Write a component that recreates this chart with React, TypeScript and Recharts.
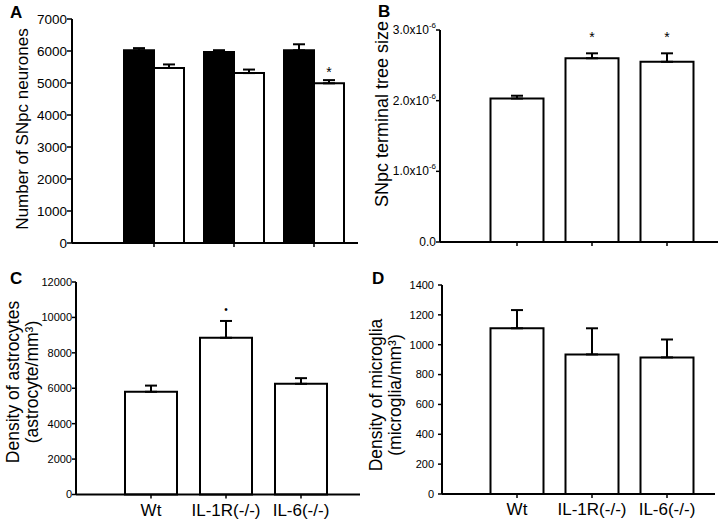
import React from "react"
import { BarChart, Bar, XAxis, YAxis, ErrorBar, LabelList } from "recharts"

const groups = ["Wt", "IL-1R(-/-)", "IL-6(-/-)"]

// A: number of SNpc neurones (black = one condition, white = other)
const neuronsBlack = [6020, 5970, 6020]
const neuronsBlackErr = [70, 55, 190]
const neuronsWhite = [5470, 5310, 4990]
const neuronsWhiteErr = [110, 110, 100]
const neuronsSig = ["", "", "*"]
const neuronsTicks = [0, 1000, 2000, 3000, 4000, 5000, 6000, 7000]

// B: SNpc terminal tree size
const treeSize = [2.03e-6, 2.6e-6, 2.55e-6]
const treeSizeErr = [0.04e-6, 0.07e-6, 0.12e-6]
const treeSig = ["", "*", "*"]
const treeTicks = [0, 1e-6, 2e-6, 3e-6]

// C: astrocyte density
const astro = [5800, 8850, 6250]
const astroErr = [350, 950, 320]
const astroSig = ["", "\u2022", ""]
const astroTicks = [0, 2000, 4000, 6000, 8000, 10000, 12000]

// D: microglia density
const micro = [1110, 935, 915]
const microErr = [122, 175, 120]
const microTicks = [0, 200, 400, 600, 800, 1000, 1200, 1400]

const font = "'Liberation Sans', Arial, sans-serif"

const dataA = groups.map((g, i) => ({
  name: g,
  black: neuronsBlack[i],
  blackErr: [0, neuronsBlackErr[i]],
  white: neuronsWhite[i],
  whiteErr: [0, neuronsWhiteErr[i]],
  idx: String(i),
}))
const dataB = groups.map((g, i) => ({ name: g, v: treeSize[i], e: [0, treeSizeErr[i]], idx: String(i) }))
const dataC = groups.map((g, i) => ({ name: g, v: astro[i], e: [0, astroErr[i]], idx: String(i) }))
const dataD = groups.map((g, i) => ({ name: g, v: micro[i], e: [0, microErr[i]], idx: String(i) }))

// star above the error bar, using the bar's own pixel height for the scale
const star = (vals: number[], errs: number[], sig: string[], size = 14, gap = 4) => (props: any) => {
  const i = Number(props.value ?? props.index)
  if (!sig[i]) return null
  const vb = props.viewBox && props.viewBox.width !== undefined ? props.viewBox : props
  const { x, y, width, height } = vb
  const h = Math.abs(height)
  const top = Math.min(y, y + height) - (errs[i] * h) / vals[i]
  return (
    <text key={"s" + i} x={x + width / 2} y={top - gap} textAnchor="middle" fontSize={size} fontFamily={font} fill="#000">
      {sig[i]}
    </text>
  )
}

const yTitle = (lines: string[], xs: number[], cy: number, size: number) => () => (
  <g>
    {lines.map((l, k) => (
      <text
        key={k}
        x={xs[k]}
        y={cy}
        dy="0.35em"
        textAnchor="middle"
        fontSize={size}
        fontFamily={font}
        fill="#000"
        transform={`rotate(-90, ${xs[k]}, ${cy})`}
      >
        {l}
      </text>
    ))}
  </g>
)

const sciTick = (props: any) => {
  const { x, y, payload } = props
  const v = payload.value
  if (v === 0)
    return (
      <text x={x} y={y} dy={4} textAnchor="end" fontSize={12} fontFamily={font} fill="#000">
        0.0
      </text>
    )
  return (
    <text x={x} y={y} dy={4} textAnchor="end" fontSize={12} fontFamily={font} fill="#000">
      <tspan>{(v * 1e6).toFixed(1)}x10</tspan>
      <tspan dy={-6} fontSize={8}>-6</tspan>
    </text>
  )
}

const axisStroke = { stroke: "#000", strokeWidth: 2 }
const tickStroke = { stroke: "#000", strokeWidth: 1.5 }

const letter = (t: string, x: number, y: number) => (
  <div style={{ position: "absolute", left: x, top: y, fontFamily: font, fontWeight: "bold", fontSize: 17, lineHeight: "17px" }}>
    {t}
  </div>
)

export default function App() {
  return (
    <div style={{ position: "absolute", left: 0, top: 0, width: 720, height: 526, background: "#fff", overflow: "hidden" }}>
      {/* A */}
      <div style={{ position: "absolute", left: 0, top: 0 }}>
        <BarChart width={360} height={260} data={dataA} margin={{ top: 19, right: 2, left: 0, bottom: 0 }} barCategoryGap={10} barGap={0}>
          <XAxis
            dataKey="name"
            height={17}
            padding={{ left: 42, right: 4 }}
            axisLine={axisStroke}
            tickLine={tickStroke}
            tickSize={4}
            tickFormatter={() => ""}
          />
          <YAxis
            width={72}
            domain={[0, 7000]}
            ticks={neuronsTicks}
            axisLine={axisStroke}
            tickLine={tickStroke}
            tickSize={5}
            tickMargin={0}
            tick={{ fontSize: 13.5, fill: "#000", fontFamily: font }}
            label={{ content: yTitle(["Number of SNpc neurones"], [22], 129, 17) }}
          />
          <Bar dataKey="black" fill="#000" stroke="#000" strokeWidth={2} isAnimationActive={false}>
            <ErrorBar dataKey="blackErr" direction="y" width={6} stroke="#000" strokeWidth={2} />
          </Bar>
          <Bar dataKey="white" fill="#fff" stroke="#000" strokeWidth={2} isAnimationActive={false}>
            <ErrorBar dataKey="whiteErr" direction="y" width={6} stroke="#000" strokeWidth={2} />
            <LabelList dataKey="idx" content={star(neuronsWhite, neuronsWhiteErr, neuronsSig, 14, 3)} />
          </Bar>
        </BarChart>
      </div>

      {/* B */}
      <div style={{ position: "absolute", left: 360, top: 0 }}>
        <BarChart width={360} height={260} data={dataB} margin={{ top: 30, right: 2, left: 0, bottom: 0 }} barCategoryGap={11}>
          <XAxis
            dataKey="name"
            height={18}
            padding={{ left: 39.5, right: 13.5 }}
            axisLine={axisStroke}
            tickLine={tickStroke}
            tickSize={4}
            tickFormatter={() => ""}
          />
          <YAxis
            width={80}
            domain={[0, 3e-6]}
            ticks={treeTicks}
            axisLine={axisStroke}
            tickLine={tickStroke}
            tickSize={4}
            tickMargin={0}
            tick={sciTick}
            label={{ content: yTitle(["SNpc terminal tree size"], [22], 114, 18) }}
          />
          <Bar dataKey="v" fill="#fff" stroke="#000" strokeWidth={2} isAnimationActive={false}>
            <ErrorBar dataKey="e" direction="y" width={6} stroke="#000" strokeWidth={2} />
            <LabelList dataKey="idx" content={star(treeSize, treeSizeErr, treeSig, 14, 11)} />
          </Bar>
        </BarChart>
      </div>

      {/* C */}
      <div style={{ position: "absolute", left: 0, top: 260 }}>
        <BarChart width={360} height={266} data={dataC} margin={{ top: 22, right: 0, left: 0, bottom: 0 }} barCategoryGap={11.5}>
          <XAxis
            dataKey="name"
            height={31.5}
            padding={{ left: 37.5, right: 21.5 }}
            axisLine={axisStroke}
            tickLine={tickStroke}
            tickSize={4}
            tickMargin={5}
            tick={{ fontSize: 17, fill: "#000", fontFamily: font }}
            interval={0}
          />
          <YAxis
            width={76}
            domain={[0, 12000]}
            ticks={astroTicks}
            axisLine={axisStroke}
            tickLine={tickStroke}
            tickSize={4}
            tickMargin={0}
            tick={{ fontSize: 11, fill: "#000", fontFamily: font }}
            label={{ content: yTitle(["Density of astrocytes", "(astrocyte/mm\u00b3)"], [13, 32], 122, 17.5) }}
          />
          <Bar dataKey="v" fill="#fff" stroke="#000" strokeWidth={2} isAnimationActive={false}>
            <ErrorBar dataKey="e" direction="y" width={6} stroke="#000" strokeWidth={2} />
            <LabelList dataKey="idx" content={star(astro, astroErr, astroSig, 10, 8)} />
          </Bar>
        </BarChart>
      </div>

      {/* D */}
      <div style={{ position: "absolute", left: 360, top: 260 }}>
        <BarChart width={360} height={266} data={dataD} margin={{ top: 25, right: 5, left: 0, bottom: 0 }} barCategoryGap={11}>
          <XAxis
            dataKey="name"
            height={32}
            padding={{ left: 37.5, right: 10.5 }}
            axisLine={axisStroke}
            tickLine={tickStroke}
            tickSize={4}
            tickMargin={5}
            tick={{ fontSize: 17, fill: "#000", fontFamily: font }}
            interval={0}
          />
          <YAxis
            width={82}
            domain={[0, 1400]}
            ticks={microTicks}
            axisLine={axisStroke}
            tickLine={tickStroke}
            tickSize={4}
            tickMargin={4}
            tick={{ fontSize: 11, fill: "#000", fontFamily: font }}
            label={{ content: yTitle(["Density of microglia", "(microglia/mm\u00b3)"], [16, 35], 135, 17.5) }}
          />
          <Bar dataKey="v" fill="#fff" stroke="#000" strokeWidth={2} isAnimationActive={false}>
            <ErrorBar dataKey="e" direction="y" width={6} stroke="#000" strokeWidth={2} />
          </Bar>
        </BarChart>
      </div>

      {letter("A", 10, 4)}
      {letter("B", 378, 3)}
      {letter("C", 10, 270)}
      {letter("D", 372, 270)}
    </div>
  )
}
